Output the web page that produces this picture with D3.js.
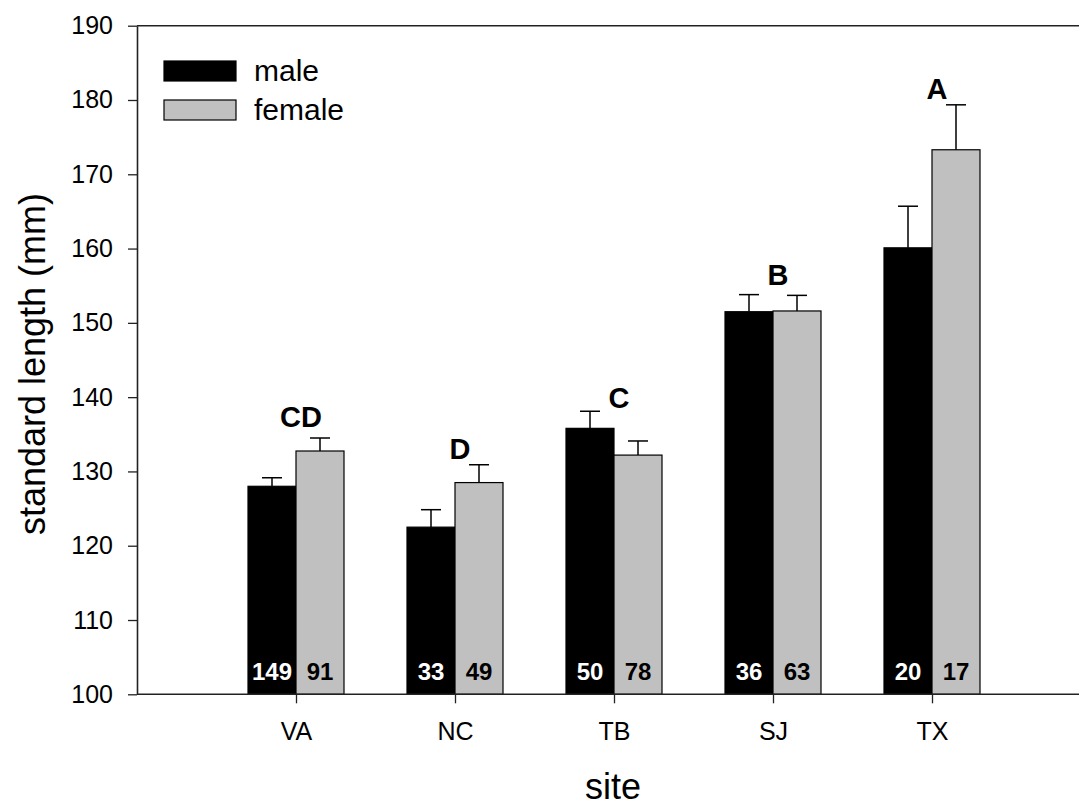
<!DOCTYPE html>
<html>
<head>
<meta charset="utf-8">
<script src="https://cdn.jsdelivr.net/npm/d3@7/dist/d3.min.js"></script>
<style>
  html, body { margin: 0; padding: 0; background: #fff; }
  svg { display: block; font-family: "Liberation Sans", Arial, sans-serif; }
</style>
</head>
<body>
<svg id="chart" width="1079" height="807"></svg>
<script>
const sites = ["VA", "NC", "TB", "SJ", "TX"];
const maleMean = [128.0, 122.5, 135.8, 151.5, 160.1];
const maleSE = [1.15, 2.35, 2.3, 2.3, 5.6];
const femaleMean = [132.75, 128.5, 132.2, 151.6, 173.3];
const femaleSE = [1.75, 2.4, 1.9, 2.1, 6.05];
const maleN = [149, 33, 50, 36, 20];
const femaleN = [91, 49, 78, 63, 17];
const groupLetters = ["CD", "D", "C", "B", "A"];
const letterLevel = [136.0, 131.7, 138.6, 155.1, 180.2];
const yTicks = [100, 110, 120, 130, 140, 150, 160, 170, 180, 190];
const seriesNames = ["male", "female"];

const svg = d3.select("#chart");
const pLeft = 137, pRight = 1091, pTop = 25.7, pBottom = 694.3;

const x = d3.scalePoint().domain(sites).range([pLeft, pRight]).padding(1);
const sub = d3.scaleBand().domain(seriesNames).range([-48, 48]);
const y = d3.scaleLinear().domain([100, 190]).range([pBottom, pTop]);
const fills = { male: "#000000", female: "#c0c0c0" };

const rows = [];
sites.forEach((s, i) => {
  rows.push({ site: s, sex: "male", mean: maleMean[i], se: maleSE[i], n: maleN[i] });
  rows.push({ site: s, sex: "female", mean: femaleMean[i], se: femaleSE[i], n: femaleN[i] });
});

// top frame line
svg.append("line")
  .attr("x1", pLeft).attr("x2", 1079).attr("y1", pTop).attr("y2", pTop)
  .attr("stroke", "#222").attr("stroke-width", 1.6);

// error bars (behind bars)
const eg = svg.append("g").attr("stroke", "#000").attr("stroke-width", 1.5);
rows.forEach(d => {
  const cx = x(d.site) + sub(d.sex) + sub.bandwidth() / 2;
  eg.append("line").attr("x1", cx).attr("x2", cx).attr("y1", y(d.mean)).attr("y2", y(d.mean + d.se));
  eg.append("line").attr("x1", cx - 10).attr("x2", cx + 10).attr("y1", y(d.mean + d.se)).attr("y2", y(d.mean + d.se));
});

// bars
svg.append("g").selectAll("rect").data(rows).join("rect")
  .attr("x", d => x(d.site) + sub(d.sex))
  .attr("y", d => y(d.mean))
  .attr("width", sub.bandwidth())
  .attr("height", d => y(100) - y(d.mean))
  .attr("fill", d => fills[d.sex])
  .attr("stroke", "#000").attr("stroke-width", 1.2);

// n labels
svg.append("g").selectAll("text").data(rows).join("text")
  .attr("x", d => x(d.site) + sub(d.sex) + sub.bandwidth() / 2)
  .attr("y", y(100) - 14)
  .attr("text-anchor", "middle")
  .attr("font-size", 24).attr("font-weight", "bold")
  .attr("fill", d => d.sex === "male" ? "#fff" : "#000")
  .text(d => d.n);

// significance letters
svg.append("g").selectAll("text").data(sites).join("text")
  .attr("x", (s) => x(s) + 5)
  .attr("y", (s, i) => y(letterLevel[i]))
  .attr("text-anchor", "middle")
  .attr("font-size", 29).attr("font-weight", "bold")
  .text((s, i) => groupLetters[i]);

// axes
const yAxis = svg.append("g").attr("transform", `translate(${pLeft},0)`)
  .call(d3.axisLeft(y).tickValues(yTicks).tickSize(9).tickPadding(15).tickSizeOuter(0));
const xAxis = svg.append("g").attr("transform", `translate(0,${pBottom})`)
  .call(d3.axisBottom(x).tickSize(9).tickPadding(19).tickSizeOuter(0));
[yAxis, xAxis].forEach(g => {
  g.attr("font-size", 25).attr("font-family", "'Liberation Sans', Arial, sans-serif");
  g.select(".domain").attr("stroke", "#222").attr("stroke-width", 1.6);
  g.selectAll(".tick line").attr("stroke", "#222").attr("stroke-width", 1.3);
  g.selectAll(".tick text").attr("font-size", 25).attr("fill", "#000");
});
yAxis.selectAll(".tick line").attr("x2", 0).attr("x1", -9);
yAxis.selectAll(".tick text").attr("x", -24);
// extend bottom axis to the right edge
xAxis.select(".domain").attr("d", `M${pLeft},0H1079`);

// axis titles
svg.append("text")
  .attr("x", 0).attr("y", 0)
  .attr("transform", `translate(45,${(pTop + pBottom) / 2 + 4}) rotate(-90)`)
  .attr("text-anchor", "middle")
  .style("font-size", "36px")
  .text("standard length (mm)");
svg.append("text")
  .attr("x", 613).attr("y", 799)
  .attr("text-anchor", "middle")
  .style("font-size", "36px")
  .text("site");

// legend
const lg = svg.append("g");
seriesNames.forEach((s, i) => {
  lg.append("rect")
    .attr("x", 164).attr("y", 61 + i * 39).attr("width", 72).attr("height", 20)
    .attr("fill", fills[s]).attr("stroke", "#000").attr("stroke-width", 1.2);
  lg.append("text")
    .attr("x", 254).attr("y", 81 + i * 39)
    .attr("font-size", 30).text(s);
});
</script>
</body>
</html>
